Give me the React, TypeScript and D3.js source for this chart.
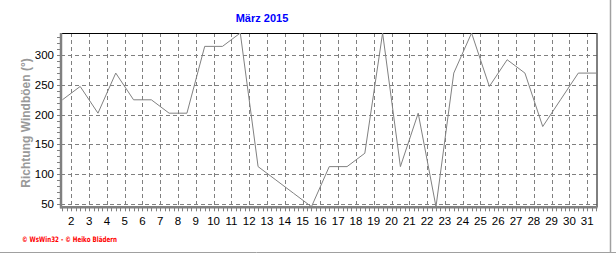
import React from "react";
import * as d3 from "d3";

const title = "März 2015";
const yAxisTitle = "Richtung Windböen  (°)";
const footer = "© WsWin32  -  © Heiko Blädern";
const days = [1,2,3,4,5,6,7,8,9,10,11,12,13,14,15,16,17,18,19,20,21,22,23,24,25,26,27,28,29,30,31];
const gustDir = [225,247.5,202.5,270,225,225,202.5,202.5,315,315,337.5,112.5,90,67.5,45,112.5,112.5,135,337.5,112.5,202.5,45,270,337.5,247.5,292.5,270,180,225,270,270];
const xTickLabels = [2,3,4,5,6,7,8,9,10,11,12,13,14,15,16,17,18,19,20,21,22,23,24,25,26,27,28,29,30,31];
const yTicks = [50,100,150,200,250,300];

const W = 616, H = 253;
const L = 61, R = 596.5, T = 33, B = 207.3;

export default function App() {
  const x = d3.scaleLinear().domain([1, 32]).range([53.5, 53.5 + 31 * 17.79]);
  const y = d3.scaleLinear().domain([44, 337.5]).range([B, T]);
  const line = d3.line<number>().x((_, i) => x(days[i] + 0.5)).y((v) => y(v));
  const pts = [...gustDir, gustDir[gustDir.length - 1]];
  const lineExt = d3.line<number>()
    .x((_, i) => (i < days.length ? x(days[i] + 0.5) : R))
    .y((v) => y(v));
  const minorX: number[] = [];
  for (let d = 1; d <= 32; d += 0.25) { const px = x(d); if (px > L + 1 && px < R) minorX.push(px); }
  const minorY = d3.range(50, 340, 10);
  const font = "'Liberation Sans', Arial, sans-serif";
  return (
    <svg width={W} height={H} style={{ position: "absolute", left: 0, top: 0, background: "#fff" }}>
      <defs>
        <clipPath id="plot"><rect x={L} y={T} width={R - L} height={B - T} /></clipPath>
      </defs>
      <rect x={0} y={0} width={W} height={H} fill="#fff" />
      <text x={262} y={22} textAnchor="middle" fontFamily={font} fontWeight="bold" fontSize={11} fill="#0000ff">{title}</text>
      {/* gridlines */}
      {yTicks.map((t) => (
        <line key={"gy" + t} x1={L} x2={R} y1={Math.round(y(t)) + 0.5} y2={Math.round(y(t)) + 0.5} stroke="#808080" strokeDasharray="4,3" />
      ))}
      {xTickLabels.map((t) => (
        <line key={"gx" + t} x1={Math.round(x(t)) + 0.5} x2={Math.round(x(t)) + 0.5} y1={T} y2={B} stroke="#808080" strokeDasharray="4,3" />
      ))}
      {/* border top/right */}
      <line x1={L} x2={R} y1={T + 0.5} y2={T + 0.5} stroke="#000" />
      <line x1={R + 0.5} x2={R + 0.5} y1={T} y2={B} stroke="#000" />
      {/* data line */}
      <path d={lineExt(pts) || ""} fill="none" stroke="#808080" strokeWidth={1} clipPath="url(#plot)" />
      {/* axes */}
      <line x1={L} x2={L} y1={T} y2={B + 1} stroke="#808080" strokeWidth={2.5} />
      <line x1={L - 1} x2={R + 1} y1={B} y2={B} stroke="#808080" strokeWidth={2.5} />
      {minorY.map((t) => (
        <line key={"my" + t} x1={L - 4} x2={L} y1={Math.round(y(t)) + 0.5} y2={Math.round(y(t)) + 0.5} stroke="#808080" />
      ))}
      {minorX.map((px, i) => (
        <line key={"mx" + i} x1={Math.round(px) + 0.5} x2={Math.round(px) + 0.5} y1={B} y2={B + 4} stroke="#808080" />
      ))}
      {yTicks.map((t) => (
        <text key={"ly" + t} x={54} y={y(t) + 4} textAnchor="end" fontFamily={font} fontSize={11.5} fill="#000">{t}</text>
      ))}
      {xTickLabels.map((t) => (
        <text key={"lx" + t} x={x(t)} y={225} textAnchor="middle" fontFamily={font} fontSize={11.5} fill="#000">{t}</text>
      ))}
      <text transform={`translate(30,123) rotate(-90)`} textAnchor="middle" fontFamily={font} fontWeight="bold" fontSize={12} fill="#999">{yAxisTitle}</text>
      <text x={22} y={242} fontFamily="'DejaVu Sans', sans-serif" fontWeight="bold" fontSize={7.5} fill="#ff0000" textLength={95} lengthAdjust="spacingAndGlyphs">{footer}</text>
      <line x1={0} x2={W} y1={252.5} y2={252.5} stroke="#a0a0a0" />
      <line x1={610.5} x2={610.5} y1={0} y2={H} stroke="#a0a0a0" strokeWidth={1.5} />
    </svg>
  );
}
